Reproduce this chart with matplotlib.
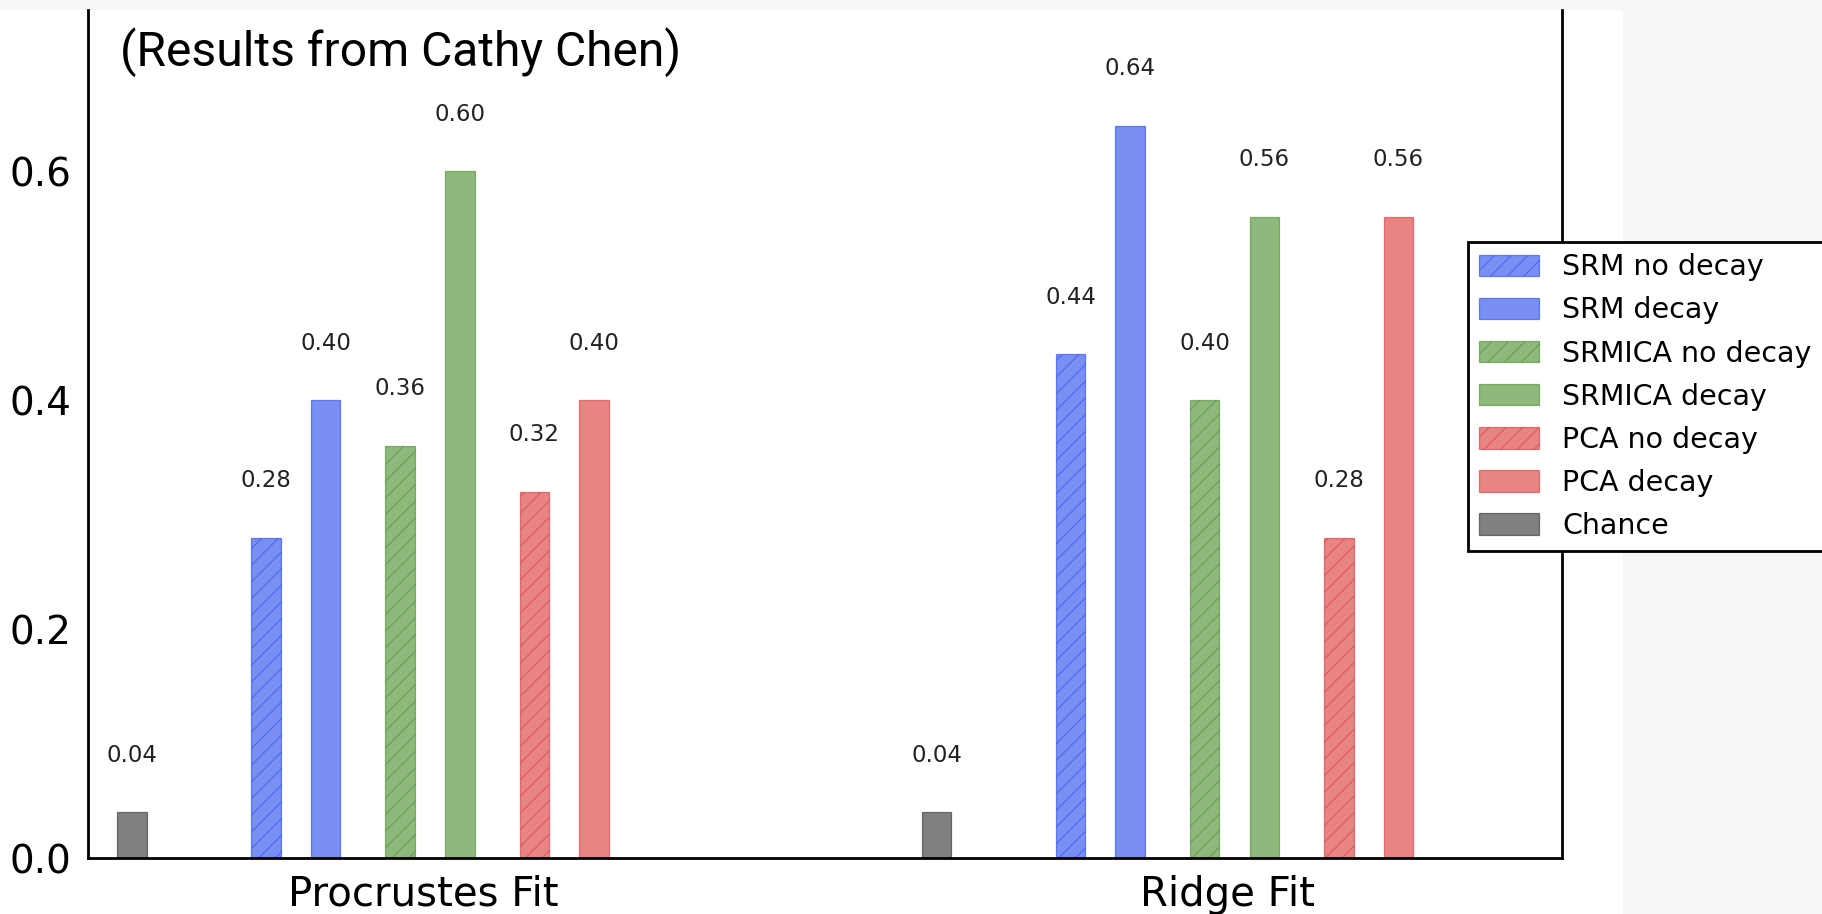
import matplotlib
matplotlib.use("Agg")
import matplotlib.pyplot as plt
from matplotlib.patches import Rectangle
import numpy as np

# ---- data ----
groups = ["Procrustes Fit", "Ridge Fit"]
series_names = ["SRM no decay", "SRM decay", "SRMICA no decay", "SRMICA decay",
                "PCA no decay", "PCA decay", "Chance"]
srm_nodecay = [0.28, 0.44]
srm_decay = [0.40, 0.64]
srmica_nodecay = [0.36, 0.40]
srmica_decay = [0.60, 0.56]
pca_nodecay = [0.32, 0.28]
pca_decay = [0.40, 0.56]
chance = [0.04, 0.04]
yticks = [0.0, 0.2, 0.4, 0.6]

# ---- style ----
plt.rcParams["hatch.linewidth"] = 0.7
blue = (33/255, 68/255, 238/255)
green = (68/255, 138/255, 38/255)
red = (217/255, 50/255, 50/255)
gray = (43/255, 43/255, 43/255)
alpha = 0.6
width = 0.0367
offsets = [-0.195, -0.121, -0.0286, 0.046, 0.1385, 0.2126, -0.3617]
colors = [blue, blue, green, green, red, red, gray]
hatches = ["//", None, "//", None, "//", None, None]
values = [srm_nodecay, srm_decay, srmica_nodecay, srmica_decay,
          pca_nodecay, pca_decay, chance]

W, H = 1822, 914
fig = plt.figure(figsize=(W/100, H/100), dpi=100)
fig.patch.set_facecolor("white")
# slide background strips
bg = "#f7f7f7"
fig.patches.append(Rectangle((0, 1 - 10/H), 1, 10/H, transform=fig.transFigure,
                             facecolor=bg, edgecolor="none", zorder=-10))
fig.patches.append(Rectangle((1623/W, 0), 1 - 1623/W, 1, transform=fig.transFigure,
                             facecolor=bg, edgecolor="none", zorder=-10))

ax = fig.add_axes([88/W, 1 - 858/H, (1562 - 88)/W, (858 - 10)/H])
x = np.arange(len(groups))

for name, vals, off, c, h in zip(series_names, values, offsets, colors, hatches):
    ax.bar(x + off, vals, width, color=c, alpha=alpha, edgecolor=c,
           linewidth=0.9, hatch=h, label=name)
    for xi, v in zip(x + off, vals):
        ax.text(xi, v + 0.05, f"{v:.2f}", ha="center", va="center",
                fontsize=16.5, color="#222222")

ax.set_xlim(-0.4164, 1.4158)
ax.set_ylim(0, 0.741)
ax.set_xticks(x)
ax.set_xticklabels(groups, fontsize=29)
ax.set_yticks(yticks)
ax.set_yticklabels([f"{t:.1f}" for t in yticks], fontsize=28)
ax.tick_params(axis="both", length=0, pad=12)
for s in ["left", "bottom", "right"]:
    ax.spines[s].set_linewidth(2.0)
    ax.spines[s].set_color("black")
ax.spines["top"].set_visible(False)

handles, labels = ax.get_legend_handles_labels()
leg = fig.legend(handles, labels, loc="upper left",
                 bbox_to_anchor=(1468/W, 1 - 242/H), bbox_transform=fig.transFigure,
                 borderaxespad=0, fontsize=20.5, labelspacing=0.53,
                 handlelength=2.1, handleheight=0.78, handletextpad=0.8,
                 borderpad=0.4, fancybox=False, framealpha=1, edgecolor="black")
leg.get_frame().set_linewidth(2.0)

fig.text(120/W, 1 - 66/H, "(Results from Cathy Chen)", family="Roboto",
         fontsize=34.6, ha="left", va="baseline", color="black")

fig.savefig("out.png", dpi=100, facecolor=fig.get_facecolor())
